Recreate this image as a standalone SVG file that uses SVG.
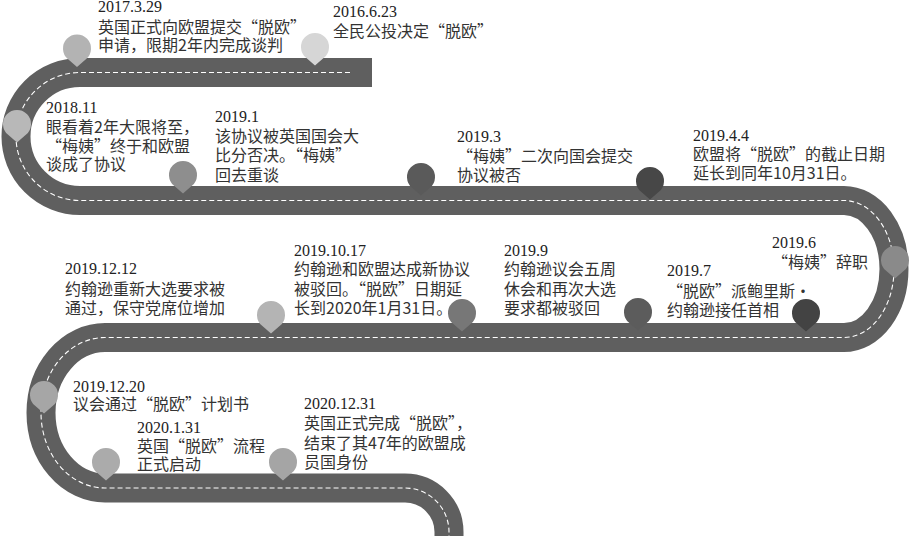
<svg xmlns="http://www.w3.org/2000/svg" xmlns:xlink="http://www.w3.org/1999/xlink" width="910" height="536" viewBox="0 0 910 536">
<defs>
<style>
.road{fill:none;stroke:#5f5f5f;stroke-width:29;stroke-linecap:butt;stroke-linejoin:round}
.lane{fill:none;stroke:#ffffff;stroke-width:1.1;stroke-dasharray:5 3}
.d{font-family:"Liberation Serif","Times New Roman",serif;font-size:16px;fill:#222}
.t{font-family:"Noto Sans CJK SC","Noto Sans CJK TC",sans-serif;font-size:16px;fill:#333}
</style>
<path id="pin" d="M0,18.5 L-9.15,10.6 A14,14 0 1 1 9.15,10.6 Z"/>
</defs>
<rect width="910" height="536" fill="#ffffff"/>
<g id="connectors">
<path id="road" class="road" d="M372,72.5 H80 A64,64 0 0 0 80,200.5 H844 A50,68.5 0 0 1 844,337.5 H105 A64,75.25 0 0 0 105,488 H405 A44,44 0 0 1 449,532 V545"/>
<path id="lane" class="lane" d="M350,72.5 H80 A64,64 0 0 0 80,200.5 H844 A50,68.5 0 0 1 844,337.5 H105 A64,75.25 0 0 0 105,488 H405 A44,44 0 0 1 449,532 V545"/>
</g>
<g id="n2016-6-23">
<use xlink:href="#pin" x="315" y="47" fill="#d6d6d6"/>
<text class="d" x="333" y="17">2016.6.23</text>
<text class="t" x="333" y="37">全民公投决定“脱欧”</text>
</g>
<g id="n2017-3-29">
<use xlink:href="#pin" x="77" y="48.5" fill="#b3b3b3"/>
<text class="d" x="98" y="12">2017.3.29</text>
<text class="t"><tspan x="98" y="32.5">英国正式向欧盟提交“脱欧”</tspan><tspan x="98" y="51">申请，限期2年内完成谈判</tspan></text>
</g>
<g id="n2018-11">
<use xlink:href="#pin" x="17" y="124" fill="#b8b8b8"/>
<text class="d" x="46" y="113">2018.11</text>
<text class="t"><tspan x="46" y="132.5">眼看着2年大限将至，</tspan><tspan x="46" y="151.5">“梅姨”终于和欧盟</tspan><tspan x="46" y="170">谈成了协议</tspan></text>
</g>
<g id="n2019-1">
<use xlink:href="#pin" x="183" y="175" fill="#8e8e8e"/>
<text class="d" x="215" y="122">2019.1</text>
<text class="t"><tspan x="215" y="142">该协议被英国国会大</tspan><tspan x="215" y="161">比分否决。“梅姨”</tspan><tspan x="215" y="180.5">回去重谈</tspan></text>
</g>
<g id="n2019-3">
<use xlink:href="#pin" x="421" y="177" fill="#5a5a5a"/>
<text class="d" x="457" y="141.5">2019.3</text>
<text class="t"><tspan x="457" y="161.5">“梅姨”二次向国会提交</tspan><tspan x="457" y="181">协议被否</tspan></text>
</g>
<g id="n2019-4-4">
<use xlink:href="#pin" x="650" y="181" fill="#474747"/>
<text class="d" x="693" y="141">2019.4.4</text>
<text class="t"><tspan x="693" y="160">欧盟将“脱欧”的截止日期</tspan><tspan x="693" y="179">延长到同年10月31日。</tspan></text>
</g>
<g id="n2019-6">
<use xlink:href="#pin" x="895" y="260" fill="#8a8a8a"/>
<text class="d" x="772" y="248">2019.6</text>
<text class="t" x="772" y="268">“梅姨”辞职</text>
</g>
<g id="n2019-7">
<use xlink:href="#pin" x="806" y="313" fill="#434343"/>
<text class="d" x="667" y="276">2019.7</text>
<text class="t"><tspan x="667" y="296.5">“脱欧”派鲍里斯•</tspan><tspan x="667" y="316">约翰逊接任首相</tspan></text>
</g>
<g id="n2019-9">
<use xlink:href="#pin" x="638" y="312" fill="#5c5c5c"/>
<text class="d" x="504" y="255.5">2019.9</text>
<text class="t"><tspan x="504" y="275">约翰逊议会五周</tspan><tspan x="504" y="294.5">休会和再次大选</tspan><tspan x="504" y="314">要求都被驳回</tspan></text>
</g>
<g id="n2019-10-17">
<use xlink:href="#pin" x="462" y="313" fill="#777777"/>
<text class="d" x="294" y="255.5">2019.10.17</text>
<text class="t"><tspan x="294" y="275">约翰逊和欧盟达成新协议</tspan><tspan x="294" y="294.5">被驳回。“脱欧”日期延</tspan><tspan x="294" y="314">长到2020年1月31日。</tspan></text>
</g>
<g id="n2019-12-12">
<use xlink:href="#pin" x="271" y="315" fill="#b4b4b4"/>
<text class="d" x="65" y="274">2019.12.12</text>
<text class="t"><tspan x="65" y="294.5">约翰逊重新大选要求被</tspan><tspan x="65" y="314">通过，保守党席位增加</tspan></text>
</g>
<g id="n2019-12-20">
<use xlink:href="#pin" x="44" y="395" fill="#a6a6a6"/>
<text class="d" x="73" y="392">2019.12.20</text>
<text class="t" x="73" y="409.5">议会通过“脱欧”计划书</text>
</g>
<g id="n2020-1-31">
<use xlink:href="#pin" x="106" y="462" fill="#ababab"/>
<text class="d" x="137" y="432.5">2020.1.31</text>
<text class="t"><tspan x="137" y="452">英国“脱欧”流程</tspan><tspan x="137" y="469.5">正式启动</tspan></text>
</g>
<g id="n2020-12-31">
<use xlink:href="#pin" x="283" y="462" fill="#a5a5a5"/>
<text class="d" x="304" y="409">2020.12.31</text>
<text class="t"><tspan x="304" y="428.5">英国正式完成“脱欧”，</tspan><tspan x="304" y="449">结束了其47年的欧盟成</tspan><tspan x="304" y="468">员国身份</tspan></text>
</g>
</svg>
